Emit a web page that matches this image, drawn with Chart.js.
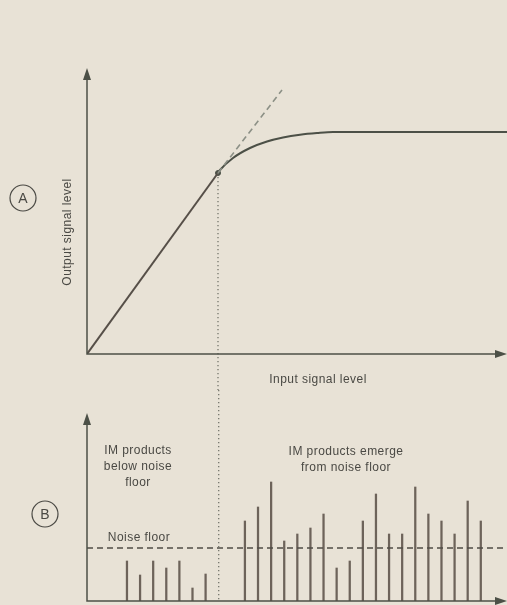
<!DOCTYPE html>
<html>
<head>
<meta charset="utf-8">
<script src="https://cdn.jsdelivr.net/npm/chart.js@4.4.1/dist/chart.umd.min.js"></script>
<style>
  html, body { margin: 0; padding: 0; background: #e8e2d6; }
  body { width: 507px; height: 605px; position: relative; overflow: hidden; }
  .panel { position: absolute; left: 0; }
  #panelA { top: 0; }
  #panelB { top: 390px; }
</style>
</head>
<body>
<div class="panel" id="panelA"><canvas id="chartA" width="507" height="390"></canvas></div>
<div class="panel" id="panelB"><canvas id="chartB" width="507" height="215"></canvas></div>
<script>
// panel A: transfer curve (input vs output level, arbitrary units)
const linearIn = [0, 131];
const linearOut = [0, 181];
const curveIn = [131, 133, 146, 163, 180, 196, 213, 230, 246, 420];
const curveOut = [181, 184, 196, 206, 212.5, 216.5, 219.3, 221, 222, 222];
const idealIn = [131, 195];
const idealOut = [181, 264];
const kneeIn = 131;
const kneeOut = 181;

// panel B: IM product spectrum
const imBins = [0, 1, 2, 3, 4, 5, 6, 9, 10, 11, 12, 13, 14, 15, 16, 17, 18, 19, 20, 21, 22, 23, 24, 25, 26, 27];
const imLevels = [40, 26, 40, 33, 40, 13, 27, 80, 94, 119, 60, 67, 73, 87, 33, 40, 80, 107, 67, 67, 114, 87, 80, 67, 100, 80];
const noiseFloor = 53;
const kneeBin = 7;

const ink = '#4c5047';
const textInk = '#4a4944';
const font = '12px "Liberation Sans", Arial, sans-serif';

function pts(xs, ys) {
  return xs.map((x, i) => ({ x: x, y: ys[i] }));
}

function drawArrowAxes(chart) {
  const ctx = chart.ctx;
  const a = chart.chartArea;
  ctx.save();
  ctx.strokeStyle = ink;
  ctx.fillStyle = ink;
  ctx.lineWidth = 1.5;
  ctx.beginPath();
  ctx.moveTo(a.left, a.top + 8);
  ctx.lineTo(a.left, a.bottom);
  ctx.lineTo(a.right - 8, a.bottom);
  ctx.stroke();
  // up arrow
  ctx.beginPath();
  ctx.moveTo(a.left, a.top - 2);
  ctx.lineTo(a.left - 4, a.top + 10);
  ctx.lineTo(a.left + 4, a.top + 10);
  ctx.closePath();
  ctx.fill();
  // right arrow
  ctx.beginPath();
  ctx.moveTo(a.right, a.bottom);
  ctx.lineTo(a.right - 12, a.bottom - 4);
  ctx.lineTo(a.right - 12, a.bottom + 4);
  ctx.closePath();
  ctx.fill();
  ctx.restore();
}

function circledLetter(ctx, x, y, letter) {
  ctx.save();
  ctx.strokeStyle = textInk;
  ctx.lineWidth = 1.2;
  ctx.beginPath();
  ctx.arc(x, y, 13, 0, Math.PI * 2);
  ctx.stroke();
  ctx.fillStyle = textInk;
  ctx.font = '14px "Liberation Sans", Arial, sans-serif';
  ctx.textAlign = 'center';
  ctx.textBaseline = 'middle';
  ctx.fillText(letter, x, y + 1);
  ctx.restore();
}

function setText(ctx) {
  ctx.fillStyle = textInk;
  ctx.font = font;
  ctx.letterSpacing = '0.45px';
  ctx.textAlign = 'center';
  ctx.textBaseline = 'middle';
}

const labelsA = {
  id: 'labelsA',
  afterDraw(chart) {
    drawArrowAxes(chart);
    const ctx = chart.ctx;
    const a = chart.chartArea;
    ctx.save();
    setText(ctx);
    ctx.fillText('Input signal level', 318, a.bottom + 26);
    ctx.translate(a.left - 19, 232);
    ctx.rotate(-Math.PI / 2);
    ctx.fillText('Output signal level', 0, 0);
    ctx.restore();
    circledLetter(ctx, 23, 198, 'A');
  }
};

const labelsB = {
  id: 'labelsB',
  afterDraw(chart) {
    drawArrowAxes(chart);
    const ctx = chart.ctx;
    ctx.save();
    setText(ctx);
    ctx.fillText('IM products', 138, 61);
    ctx.fillText('below noise', 138, 77);
    ctx.fillText('floor', 138, 93);
    ctx.fillText('Noise floor', 139, 148);
    ctx.fillText('IM products emerge', 346, 62);
    ctx.fillText('from noise floor', 346, 78);
    ctx.restore();
    circledLetter(ctx, 45, 124, 'B');
  }
};

new Chart(document.getElementById('chartA'), {
  type: 'line',
  data: {
    datasets: [
      {
        data: pts([kneeIn, kneeIn], [kneeOut, -40]),
        borderColor: '#75766c', borderWidth: 1.3, borderDash: [1.2, 2.8],
        pointRadius: 0, clip: false
      },
      {
        data: pts(idealIn, idealOut),
        borderColor: '#8c9086', borderWidth: 1.6, borderDash: [6, 4],
        pointRadius: 0
      },
      {
        data: pts(linearIn, linearOut),
        borderColor: '#564f48', borderWidth: 2, tension: 0, pointRadius: 0
      },
      {
        data: pts(curveIn, curveOut),
        borderColor: ink, borderWidth: 2, cubicInterpolationMode: 'monotone',
        pointRadius: 0, clip: false
      },
      {
        data: [{ x: kneeIn, y: kneeOut }],
        borderColor: ink, backgroundColor: ink, pointRadius: 2.5, showLine: false
      }
    ]
  },
  options: {
    responsive: false,
    animation: false,
    layout: { autoPadding: false, padding: { left: 87, top: 70, right: 0, bottom: 36 } },
    plugins: { legend: { display: false }, tooltip: { enabled: false } },
    scales: {
      x: { type: 'linear', min: 0, max: 420, display: false },
      y: { type: 'linear', min: 0, max: 284, display: false }
    }
  },
  plugins: [labelsA]
});

new Chart(document.getElementById('chartB'), {
  type: 'bar',
  data: {
    datasets: [
      {
        type: 'line',
        data: pts([kneeBin, kneeBin], [215, 0]),
        borderColor: '#75766c', borderWidth: 1.3, borderDash: [1.2, 2.8],
        pointRadius: 0, clip: false
      },
      {
        type: 'line',
        data: pts([-3.05, 29], [noiseFloor, noiseFloor]),
        borderColor: '#4f4c46', borderWidth: 1.3, borderDash: [6, 4],
        pointRadius: 0
      },
      {
        data: pts(imBins, imLevels),
        backgroundColor: '#6d635a',
        barThickness: 1.6
      }
    ]
  },
  options: {
    responsive: false,
    animation: false,
    layout: { autoPadding: false, padding: { left: 87, top: 25, right: 0, bottom: 4 } },
    plugins: { legend: { display: false }, tooltip: { enabled: false } },
    scales: {
      x: { type: 'linear', min: -3.05, max: 29, offset: false, display: false },
      y: { type: 'linear', min: 0, max: 186, display: false }
    }
  },
  plugins: [labelsB]
});
</script>
</body>
</html>
